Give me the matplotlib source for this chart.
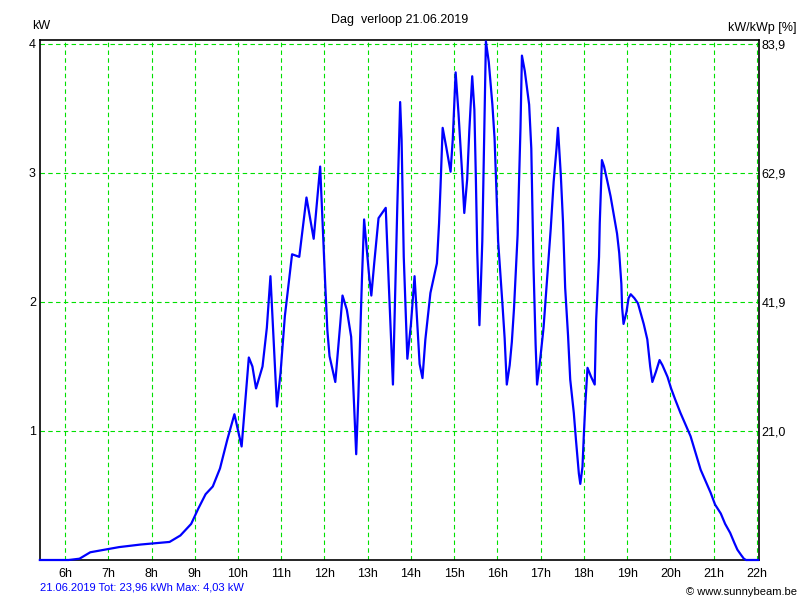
import matplotlib
matplotlib.use('Agg')
import matplotlib.pyplot as plt

# Dag verloop 21.06.2019 - vermogen in kW
times = ['5:25', '6:05', '6:20', '6:35', '6:55', '7:15', '7:45', '8:25', '8:40', '8:55',
         '9:05', '9:15', '9:25', '9:35', '9:45', '9:55', '10:05', '10:15', '10:20', '10:25',
         '10:34', '10:40', '10:45', '10:54', '10:59', '11:05', '11:15', '11:25', '11:35', '11:45',
         '11:54', '12:01', '12:04', '12:07', '12:15', '12:22', '12:25', '12:31', '12:37', '12:44',
         '12:47', '12:52', '12:55', '12:58', '13:02', '13:05', '13:09', '13:15', '13:25', '13:29',
         '13:35', '13:38', '13:41', '13:45', '13:47', '13:50', '13:55', '14:00', '14:05', '14:08',
         '14:12', '14:16', '14:20', '14:27', '14:36', '14:39', '14:41', '14:44', '14:49', '14:55',
         '14:58', '15:02', '15:06', '15:11', '15:14', '15:18', '15:21', '15:25', '15:28', '15:30',
         '15:32', '15:35', '15:37', '15:39', '15:41', '15:43', '15:44', '15:48', '15:50', '15:53',
         '15:56', '15:58', '16:01', '16:07', '16:10', '16:13', '16:17', '16:20', '16:23', '16:28',
         '16:32', '16:34', '16:38', '16:41', '16:44', '16:47', '16:50', '16:53', '16:55', '16:58',
         '17:00', '17:04', '17:08', '17:14', '17:18', '17:22', '17:24', '17:28', '17:31', '17:34',
         '17:38', '17:41', '17:46', '17:49', '17:53', '17:55', '17:58', '18:00', '18:02', '18:05',
         '18:10', '18:15', '18:17', '18:21', '18:22', '18:25', '18:28', '18:32', '18:37', '18:41',
         '18:46', '18:49', '18:52', '18:53', '18:55', '18:59', '19:02', '19:05', '19:10', '19:15',
         '19:19', '19:23', '19:28', '19:32', '19:35', '19:40', '19:45', '19:49', '19:56', '20:01',
         '20:07', '20:14', '20:21', '20:28', '20:35', '20:42', '20:49', '20:56', '21:02', '21:10',
         '21:16', '21:23', '21:29', '21:33', '21:38', '21:42', '21:45', '22:02']
kw = [0.00, 0.00, 0.01, 0.06, 0.08, 0.10, 0.12, 0.14, 0.19, 0.28,
      0.40, 0.51, 0.57, 0.71, 0.93, 1.13, 0.88, 1.57, 1.50, 1.33,
      1.50, 1.80, 2.20, 1.19, 1.45, 1.89, 2.37, 2.35, 2.81, 2.49,
      3.05, 2.14, 1.78, 1.58, 1.38, 1.84, 2.05, 1.94, 1.73, 0.82,
      1.27, 2.18, 2.64, 2.45, 2.20, 2.05, 2.30, 2.65, 2.73, 2.17,
      1.36, 2.04, 2.73, 3.55, 3.26, 2.35, 1.56, 1.83, 2.20, 1.91,
      1.52, 1.41, 1.71, 2.07, 2.30, 2.61, 2.89, 3.35, 3.20, 3.01,
      3.26, 3.78, 3.46, 3.00, 2.69, 2.95, 3.33, 3.75, 3.49, 2.98,
      2.39, 1.82, 2.13, 2.47, 3.09, 3.71, 4.02, 3.86, 3.73, 3.53,
      3.27, 2.96, 2.47, 1.98, 1.72, 1.36, 1.51, 1.69, 1.95, 2.52,
      3.35, 3.91, 3.79, 3.66, 3.53, 3.19, 2.29, 1.67, 1.36, 1.49,
      1.59, 1.80, 2.11, 2.57, 2.93, 3.19, 3.35, 2.98, 2.62, 2.11,
      1.74, 1.40, 1.14, 0.93, 0.67, 0.59, 0.72, 0.98, 1.21, 1.49,
      1.42, 1.36, 1.86, 2.35, 2.61, 3.10, 3.05, 2.95, 2.82, 2.69,
      2.53, 2.38, 2.14, 1.96, 1.83, 1.92, 2.03, 2.06, 2.03, 1.99,
      1.91, 1.83, 1.71, 1.50, 1.38, 1.46, 1.55, 1.51, 1.42, 1.33,
      1.24, 1.14, 1.05, 0.96, 0.83, 0.70, 0.61, 0.52, 0.43, 0.36,
      0.28, 0.21, 0.13, 0.08, 0.04, 0.01, 0.00, 0.00]

hour_ticks = list(range(6, 23))
hour_labels = [f'{h}h' for h in hour_ticks]
kw_ticks = [1, 2, 3, 4]
kw_labels = ['1', '2', '3', '4']
pct_labels = ['21,0', '41,9', '62,9', '83,9']

hours = [int(t.split(':')[0]) + int(t.split(':')[1]) / 60 for t in times]

plt.rcParams['font.family'] = ['Liberation Sans', 'DejaVu Sans']

fig = plt.figure(figsize=(8, 6), dpi=100)
ax = fig.add_axes([40 / 800, 40 / 600, 719 / 800, 520 / 600])

ax2 = ax.twinx()
ax2.set_ylim(0, 4.031)
ax2.set_yticks(kw_ticks)
ax2.set_yticklabels(pct_labels, fontsize=9)
ax2.tick_params(length=0, pad=2)
for s in ax2.spines.values():
    s.set_visible(False)
# keep the main axes (with the curve) on top of the twin
ax.set_zorder(ax2.get_zorder() + 1)
ax.patch.set_visible(False)

grid_green = '#00e000'
for h in hour_ticks:
    ax.axvline(h, color=grid_green, lw=0.8, ls=(0, (4, 3)), zorder=1)
for v in kw_ticks:
    ax.axhline(v, color=grid_green, lw=0.8, ls=(0, (4, 3)), zorder=1)

ax.plot(hours, kw, color='#0000ff', lw=1.6, zorder=5, clip_on=False)

ax.set_xlim(5.42, 22.05)
ax.set_ylim(0, 4.031)
ax.set_xticks(hour_ticks)
ax.set_xticklabels(hour_labels, fontsize=9)
ax.set_yticks(kw_ticks)
ax.set_yticklabels(kw_labels, fontsize=9)
ax.tick_params(length=0, pad=3)
ax.tick_params(axis='x', pad=6)

for s in ax.spines.values():
    s.set_linewidth(1.2)
    s.set_color('black')
    s.set_zorder(2)

fig.text(0.5, 1 - 20 / 600, 'Dag  verloop 21.06.2019', ha='center', va='center', fontsize=9)
fig.text(32 / 800, 1 - 26 / 600, 'kW', ha='left', va='center', fontsize=9)
fig.text(797 / 800, 1 - 28 / 600, 'kW/kWp [%]', ha='right', va='center', fontsize=9)
fig.text(40 / 800, 1 - 588 / 600, '21.06.2019 Tot: 23,96 kWh Max: 4,03 kW',
         ha='left', va='center', fontsize=8, color='#0000ff')
fig.text(797 / 800, 1 - 592 / 600, '\u00a9 www.sunnybeam.be', ha='right', va='center', fontsize=8)

fig.savefig('out.png', dpi=100)
